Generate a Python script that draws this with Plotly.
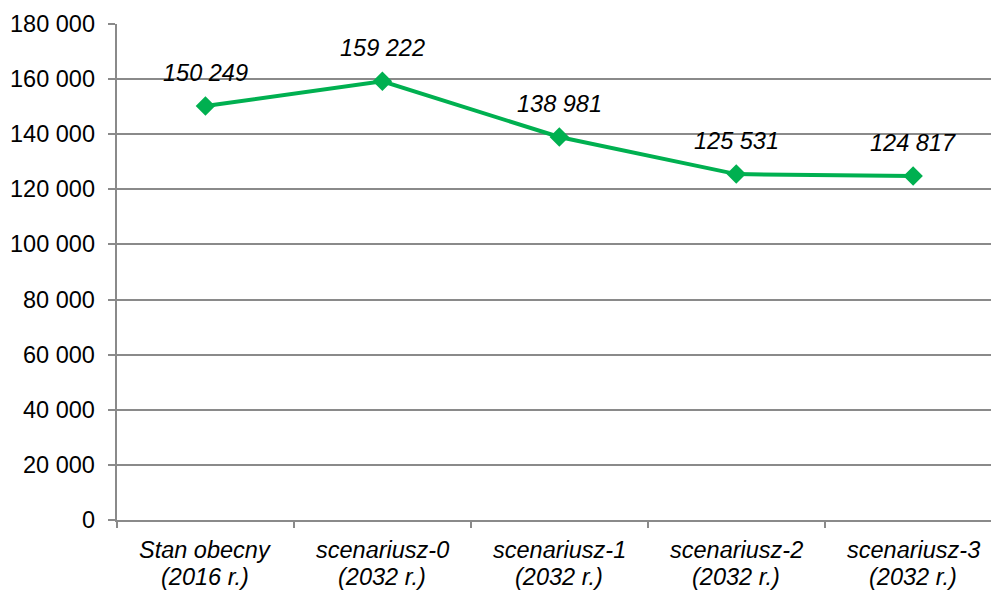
import plotly.graph_objects as go

# Category labels (two lines each) and values
cat_line1 = ["Stan obecny", "scenariusz-0", "scenariusz-1", "scenariusz-2", "scenariusz-3"]
cat_line2 = ["(2016 r.)", "(2032 r.)", "(2032 r.)", "(2032 r.)", "(2032 r.)"]
values = [150249, 159222, 138981, 125531, 124817]
y_ticks = [0, 20000, 40000, 60000, 80000, 100000, 120000, 140000, 160000, 180000]


def fmt(v):
    return f"{v:,}".replace(",", " ")


GREEN = "#00B050"
GRID = "#8a8a8a"
FONT = "Liberation Sans, Arial, sans-serif"
FS = 23.5

x_idx = list(range(len(cat_line1)))

fig = go.Figure()
fig.add_trace(go.Scatter(
    x=x_idx, y=values, mode="lines+markers",
    line=dict(color=GREEN, width=4),
    marker=dict(symbol="diamond", size=15, color=GREEN),
    hoverinfo="skip", showlegend=False,
))
# invisible trace to drive the boundary tick marks on the overlay axis
fig.add_trace(go.Scatter(x=[-0.5], y=[0], xaxis="x2", mode="markers",
                         marker=dict(opacity=0), showlegend=False, hoverinfo="skip"))

# value labels above the points
for i, v in enumerate(values):
    fig.add_annotation(x=i, y=v, text=fmt(v), showarrow=False,
                       yanchor="bottom", yshift=18,
                       font=dict(family=FONT, size=FS, color="#000", style="italic"))

# category labels below the axis
for i, (a, b) in enumerate(zip(cat_line1, cat_line2)):
    for txt, shift in ((a, -30), (b, -57)):
        fig.add_annotation(x=i, y=0, xref="x", yref="paper", text=txt,
                           showarrow=False, yanchor="middle", yshift=shift,
                           font=dict(family=FONT, size=FS, color="#000", style="italic"))

# y-axis value labels, set apart from the tick marks
for t in y_ticks:
    fig.add_annotation(x=0, y=t, xref="paper", yref="y", text=fmt(t),
                       showarrow=False, xanchor="right", yanchor="middle",
                       xshift=-20, font=dict(family=FONT, size=FS, color="#000"))

x_range = [-0.5, 4.44]

fig.update_layout(
    width=991, height=590,
    margin=dict(l=117, r=0, t=24, b=70),
    paper_bgcolor="white", plot_bgcolor="white",
    font=dict(family=FONT, size=FS, color="#000"),
    xaxis=dict(
        range=x_range, tickmode="array", tickvals=x_idx,
        showticklabels=False, ticks="", showgrid=False, zeroline=False,
        showline=True, linecolor=GRID, linewidth=1.5,
    ),
    xaxis2=dict(
        range=x_range, overlaying="x", side="bottom", anchor="y",
        tickmode="array", tickvals=[-0.5, 0.5, 1.5, 2.5, 3.5],
        ticks="outside", ticklen=7, tickcolor=GRID, tickwidth=1.5,
        showticklabels=False, showgrid=False, zeroline=False, showline=False,
    ),
    yaxis=dict(
        range=[0, 180000], tickmode="array", tickvals=y_ticks,
        showticklabels=False,
        ticks="outside", ticklen=7, tickcolor=GRID, tickwidth=1.5,
        showgrid=True, gridcolor=GRID, gridwidth=1.5,
        zeroline=False, showline=True, linecolor=GRID, linewidth=1.5,
    ),
)

fig.write_html("out.html")
